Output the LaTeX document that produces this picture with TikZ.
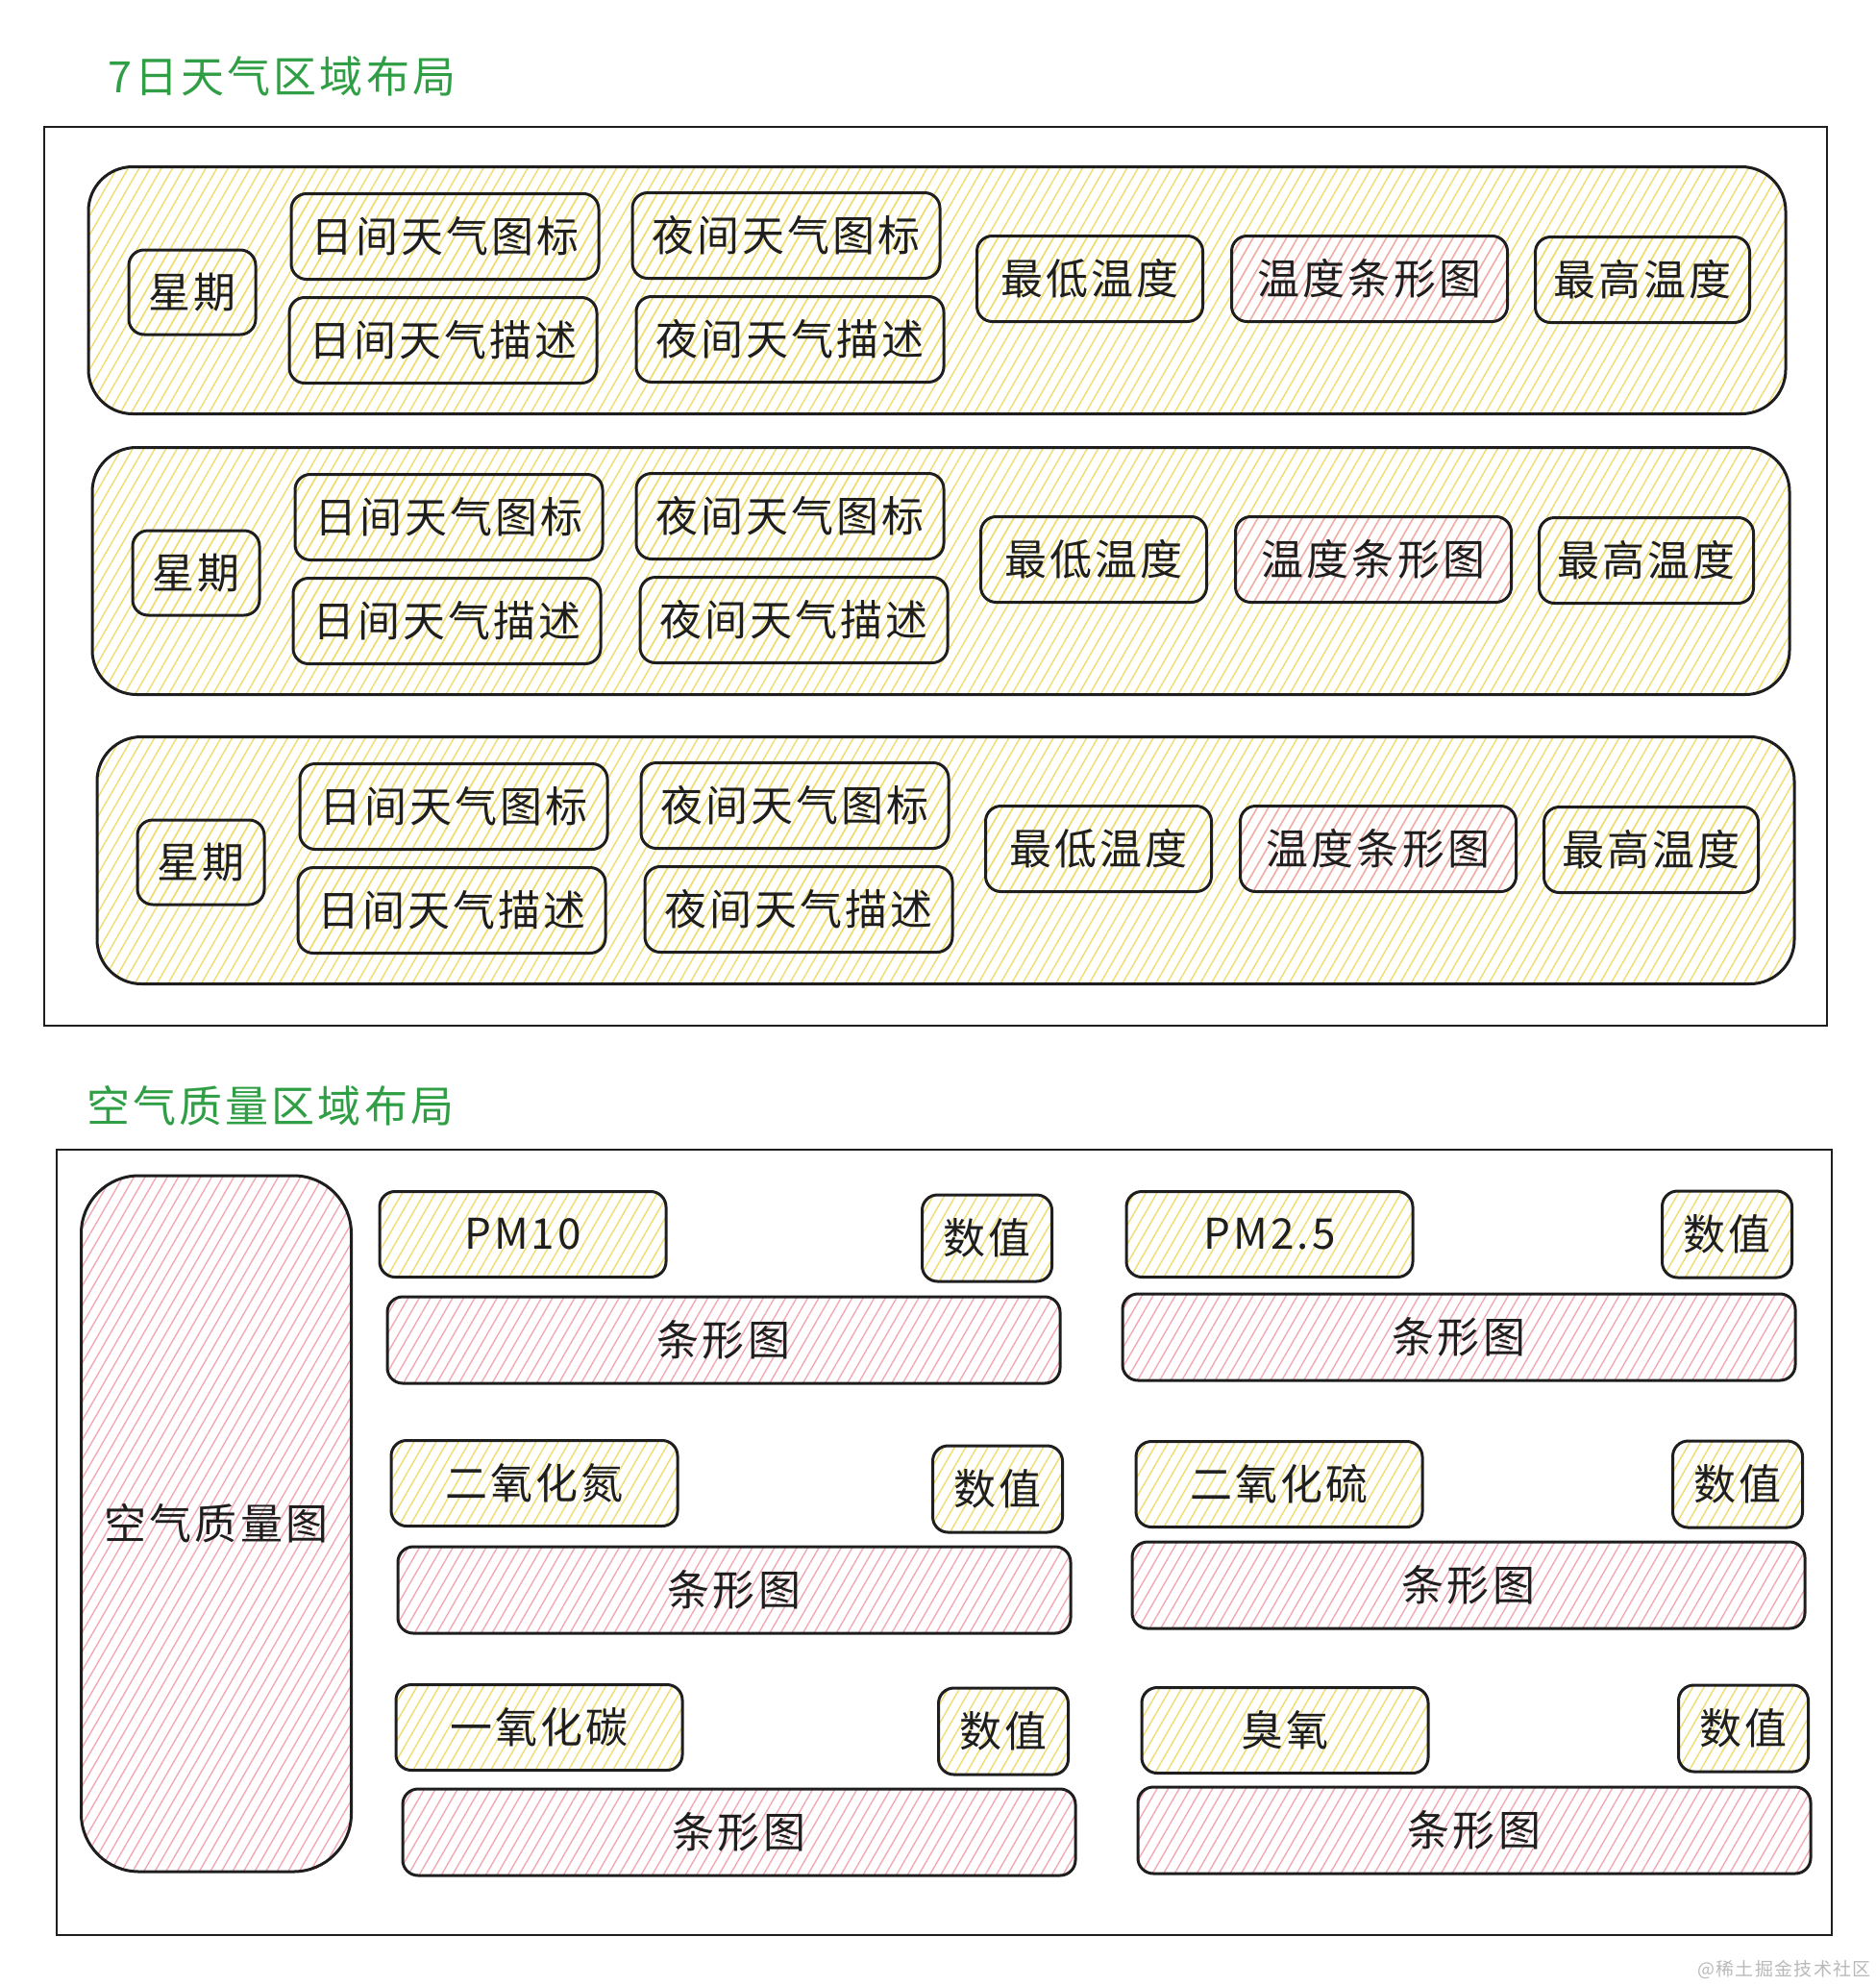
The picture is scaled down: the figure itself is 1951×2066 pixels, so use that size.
\documentclass[tikz,border=0pt]{standalone}
\usepackage{fontspec}
\setmainfont[LetterSpace = 7]{Noto Sans CJK SC}
\usetikzlibrary{patterns.meta}

\definecolor{ink}{HTML}{1E1E1E}
\definecolor{titlegreen}{HTML}{2F9E44}
\definecolor{hatchyellow}{HTML}{F0DC6E}
\definecolor{hatchpink}{HTML}{F2A8B3}

\tikzset{
	sketch/.style = {draw = ink, line width = 3pt, rounded corners = 16pt, inner sep = 0pt, text = ink,
			font = \fontsize{44}{50}\selectfont},
	yellowhatch/.style = {pattern = {Lines[angle = 60, distance = 10pt, line width = 1.4pt]}, pattern color = hatchyellow},
	pinkhatch/.style = {pattern = {Lines[angle = 60, distance = 10pt, line width = 1.4pt]}, pattern color = hatchpink},
	rowbox/.style = {sketch, yellowhatch, rounded corners = 46pt, minimum width = 1766pt, minimum height = 257pt},
	weekbox/.style = {sketch, yellowhatch, minimum width = 132pt, minimum height = 88pt},
	iconbox/.style = {sketch, yellowhatch, minimum width = 320pt, minimum height = 89pt},
	tempbox/.style = {sketch, yellowhatch, minimum width = 230pt, minimum height = 89pt},
	tempbar/.style = {sketch, pinkhatch, minimum width = 287pt, minimum height = 89pt},
	namebox/.style = {sketch, yellowhatch, minimum width = 298pt, minimum height = 89pt},
	valbox/.style = {sketch, yellowhatch, minimum width = 135pt, minimum height = 90pt},
	barbox/.style = {sketch, pinkhatch, minimum width = 700pt, minimum height = 90pt},
	heading/.style = {anchor = west, inner sep = 0pt, text = titlegreen, font = \fontsize{45}{50}\selectfont},
	frame/.style = {draw = ink, line width = 2.6pt}
}

\begin{document}
\begin{tikzpicture}[x = 1pt, y = -1pt]
	\useasboundingbox (0,0) rectangle (1951,2066);
	%
	\node (weektitle) [heading] at (112,79) {7日天气区域布局};
	\draw [frame] (46,132) rectangle (1901,1067);
	\foreach \r/\dx/\dy in {1/0/0, 2/4/292, 3/9/593}{
			\begin{scope}[shift = {(\dx,\dy)}]
				\node (day\r) [rowbox] at (975,302) {};
				\node (week\r) [weekbox] at (200,304) {星期};
				\node (dayicon\r) [iconbox] at (463,246) {日间天气图标};
				\node (daytext\r) [iconbox] at (461,354) {日间天气描述};
				\node (nighticon\r) [iconbox] at (818,245) {夜间天气图标};
				\node (nighttext\r) [iconbox] at (822,353) {夜间天气描述};
				\node (low\r) [tempbox, minimum width = 235pt] at (1134,290) {最低温度};
				\node (bar\r) [tempbar] at (1425,290) {温度条形图};
				\node (high\r) [tempbox, minimum width = 223pt] at (1709,291) {最高温度};
			\end{scope}
		}
	%
	\node (airtitle) [heading] at (90,1150) {空气质量区域布局};
	\draw [frame] (59,1196) rectangle (1906,2013);
	\node (airmap) [sketch, pinkhatch, rounded corners = 60pt, minimum width = 281pt, minimum height = 724pt]
	at (225,1585) {空气质量图};
	%
	\node (pm10) [namebox] at (544,1284) {PM10};
	\node (pm10val) [valbox] at (1027,1288) {数值};
	\node (pm10bar) [barbox] at (753,1394) {条形图};
	\node (pm25) [namebox] at (1321,1284) {PM2.5};
	\node (pm25val) [valbox] at (1797,1284) {数值};
	\node (pm25bar) [barbox] at (1518,1391) {条形图};
	%
	\node (no2) [namebox] at (556,1543) {二氧化氮};
	\node (no2val) [valbox] at (1038,1549) {数值};
	\node (no2bar) [barbox] at (764,1654) {条形图};
	\node (so2) [namebox] at (1331,1544) {二氧化硫};
	\node (so2val) [valbox] at (1808,1544) {数值};
	\node (so2bar) [barbox] at (1528,1649) {条形图};
	%
	\node (co) [namebox] at (561,1797) {一氧化碳};
	\node (coval) [valbox] at (1044,1801) {数值};
	\node (cobar) [barbox] at (769,1906) {条形图};
	\node (o3) [namebox] at (1337,1800) {臭氧};
	\node (o3val) [valbox] at (1814,1798) {数值};
	\node (o3bar) [barbox] at (1534,1904) {条形图};
	%
	\node (mark) [anchor = east, inner sep = 0pt, text = gray!55, font = \fontsize{19}{22}\selectfont]
	at (1947,2049) {@稀土掘金技术社区};
\end{tikzpicture}
\end{document}
